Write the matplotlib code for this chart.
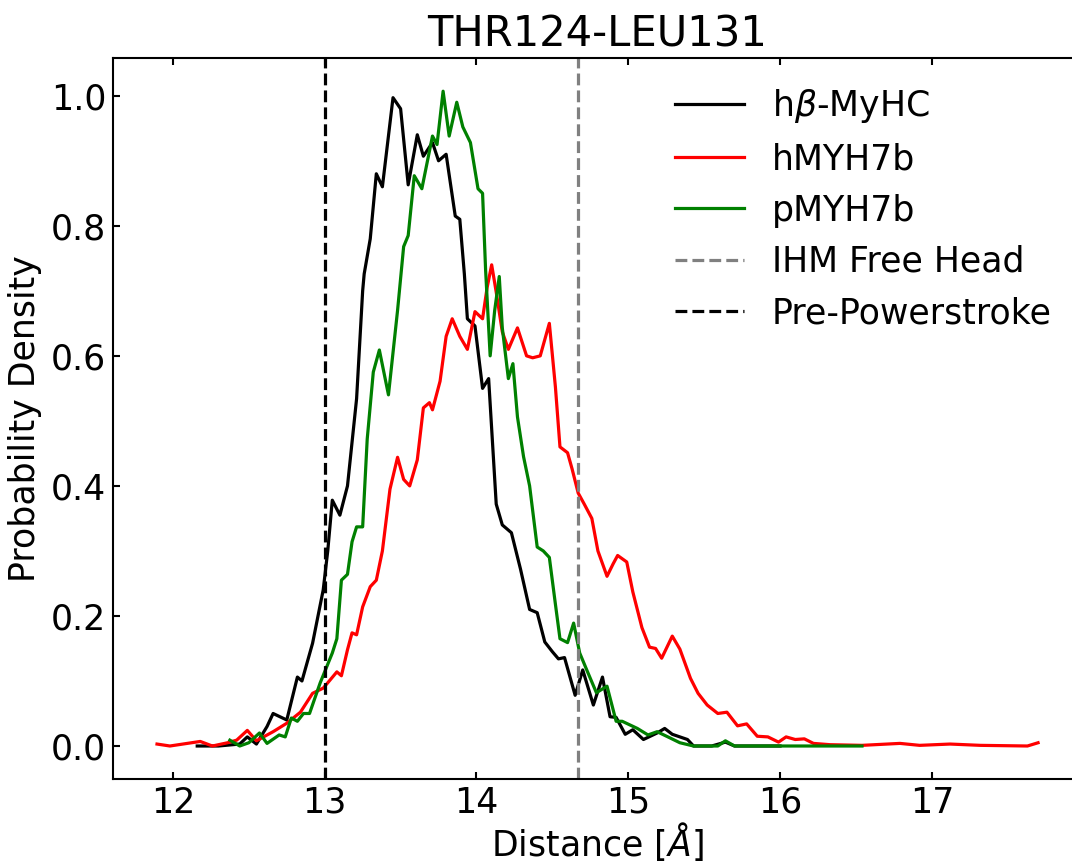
import matplotlib
matplotlib.use('Agg')
from matplotlib import pyplot as plt

# hβ-MyHC (black)
beta_x = [12.16, 12.30, 12.44, 12.49, 12.55, 12.62, 12.66, 12.75, 12.82, 12.85, 12.92, 12.99,
          13.02, 13.05, 13.10, 13.15, 13.21, 13.25, 13.26, 13.30, 13.34, 13.38, 13.45, 13.50,
          13.55, 13.61, 13.65, 13.71, 13.75, 13.80, 13.86, 13.89, 13.92, 13.94, 13.99, 14.04,
          14.08, 14.13, 14.17, 14.23, 14.29, 14.35, 14.40, 14.45, 14.50, 14.54, 14.58, 14.65,
          14.70, 14.77, 14.83, 14.88, 14.92, 14.98, 15.03, 15.10, 15.19, 15.24, 15.29, 15.39,
          15.43, 15.55, 15.64, 15.70, 16.00]
beta_y = [0.0, 0.0, 0.003, 0.014, 0.003, 0.03, 0.05, 0.04, 0.106, 0.10, 0.158, 0.24,
          0.30, 0.378, 0.355, 0.40, 0.534, 0.70, 0.726, 0.78, 0.88, 0.86, 0.997, 0.98,
          0.863, 0.94, 0.907, 0.928, 0.90, 0.91, 0.815, 0.81, 0.726, 0.657, 0.646, 0.55,
          0.565, 0.372, 0.34, 0.328, 0.272, 0.21, 0.205, 0.16, 0.145, 0.134, 0.136, 0.078,
          0.117, 0.063, 0.106, 0.045, 0.044, 0.018, 0.025, 0.010, 0.02, 0.027, 0.018, 0.01,
          0.0, 0.0, 0.006, 0.0, 0.0]

# hMYH7b (red)
hmyh_x = [11.895, 11.98, 12.18, 12.26, 12.36, 12.42, 12.49, 12.55, 12.66, 12.75, 12.84, 12.92,
          12.99, 13.03, 13.08, 13.11, 13.15, 13.18, 13.21, 13.25, 13.30, 13.34, 13.38, 13.43,
          13.48, 13.52, 13.56, 13.61, 13.65, 13.69, 13.71, 13.76, 13.80, 13.84, 13.89, 13.94,
          13.99, 14.04, 14.07, 14.10, 14.13, 14.17, 14.21, 14.27, 14.33, 14.37, 14.42, 14.48,
          14.52, 14.55, 14.60, 14.63, 14.67, 14.71, 14.76, 14.80, 14.86, 14.90, 14.93, 14.99,
          15.03, 15.09, 15.14, 15.18, 15.22, 15.29, 15.34, 15.41, 15.46, 15.52, 15.59, 15.65,
          15.72, 15.78, 15.85, 15.92, 15.99, 16.04, 16.10, 16.16, 16.22, 16.33, 16.54, 16.79,
          16.92, 17.12, 17.32, 17.63, 17.70]
hmyh_y = [0.003, 0.0, 0.007, 0.0, 0.005, 0.009, 0.024, 0.008, 0.022, 0.035, 0.052, 0.081,
          0.089, 0.10, 0.114, 0.108, 0.148, 0.174, 0.171, 0.214, 0.245, 0.255, 0.30, 0.395,
          0.444, 0.41, 0.40, 0.44, 0.52, 0.528, 0.517, 0.561, 0.63, 0.657, 0.63, 0.61,
          0.668, 0.657, 0.705, 0.74, 0.698, 0.637, 0.61, 0.643, 0.60, 0.597, 0.60, 0.65,
          0.552, 0.46, 0.451, 0.426, 0.389, 0.372, 0.35, 0.30, 0.261, 0.28, 0.293, 0.283,
          0.237, 0.182, 0.152, 0.15, 0.135, 0.169, 0.149, 0.104, 0.081, 0.063, 0.05, 0.052,
          0.031, 0.034, 0.015, 0.014, 0.006, 0.014, 0.01, 0.011, 0.004, 0.002, 0.001, 0.004,
          0.001, 0.003, 0.001, 0.0, 0.005]

# pMYH7b (green)
pmyh_x = [12.375, 12.44, 12.50, 12.57, 12.62, 12.70, 12.74, 12.78, 12.82, 12.86, 12.90, 12.97,
          13.01, 13.05, 13.08, 13.11, 13.15, 13.18, 13.21, 13.25, 13.28, 13.32, 13.36, 13.42,
          13.48, 13.52, 13.55, 13.59, 13.64, 13.71, 13.74, 13.78, 13.82, 13.87, 13.91, 13.96,
          14.01, 14.04, 14.06, 14.09, 14.12, 14.15, 14.17, 14.21, 14.24, 14.27, 14.31, 14.35,
          14.40, 14.44, 14.48, 14.52, 14.55, 14.60, 14.64, 14.68, 14.73, 14.79, 14.86, 14.92,
          14.96, 15.06, 15.13, 15.19, 15.27, 15.34, 15.43, 15.59, 15.64, 15.70, 16.54]
pmyh_y = [0.009, 0.0, 0.005, 0.02, 0.004, 0.017, 0.014, 0.043, 0.038, 0.05, 0.05, 0.097,
          0.12, 0.143, 0.165, 0.255, 0.264, 0.314, 0.337, 0.337, 0.472, 0.575, 0.609, 0.54,
          0.67, 0.768, 0.785, 0.877, 0.857, 0.938, 0.925, 1.007, 0.938, 0.99, 0.952, 0.928,
          0.857, 0.85, 0.732, 0.60, 0.67, 0.722, 0.643, 0.565, 0.588, 0.506, 0.445, 0.40,
          0.306, 0.30, 0.29, 0.218, 0.165, 0.159, 0.189, 0.143, 0.115, 0.082, 0.092, 0.038,
          0.038, 0.027, 0.017, 0.022, 0.013, 0.005, 0.0, 0.0, 0.008, 0.0, 0.0]

ihm_free_head = 14.67
pre_powerstroke = 13.0

plt.rcParams['font.size'] = 25
fig = plt.figure(figsize=(10.72, 8.61), dpi=100)
ax = fig.add_axes([0.1054, 0.0952, 0.904, 0.8374])

ax.plot(beta_x, beta_y, color='black', lw=2.3, label=r'h$\beta$-MyHC')
ax.plot(hmyh_x, hmyh_y, color='red', lw=2.3, label='hMYH7b')
ax.plot(pmyh_x, pmyh_y, color='green', lw=2.3, label='pMYH7b')
ax.axvline(ihm_free_head, color='gray', ls='--', lw=2.3, label='IHM Free Head')
ax.axvline(pre_powerstroke, color='black', ls='--', lw=2.3, label='Pre-Powerstroke')

ax.set_xlim(11.605, 17.99)
ax.set_ylim(-0.0508, 1.058)
ax.set_xticks([12, 13, 14, 15, 16, 17])
ax.set_yticks([0.0, 0.2, 0.4, 0.6, 0.8, 1.0])
ax.tick_params(direction='in', top=True, right=True, length=5, width=1.5, pad=5)
for s in ax.spines.values():
    s.set_linewidth(1.5)

ax.set_xlabel(r'Distance [$\AA$]', labelpad=0)
ax.set_ylabel('Probability Density', labelpad=6)
ax.set_title('THR124-LEU131', pad=8)

ax.legend(loc='upper left', frameon=False, borderaxespad=0,
          bbox_to_anchor=(661 / 1072, 1 - 73 / 861), bbox_transform=fig.transFigure)

fig.savefig('out.png', dpi=100)
